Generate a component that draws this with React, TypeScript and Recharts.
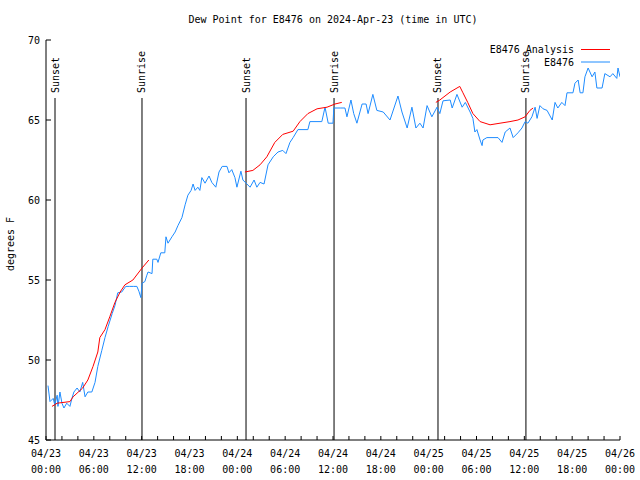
import React from 'react';
import { LineChart, Line, XAxis, YAxis, ReferenceLine, Legend } from 'recharts';

const FONT = '"DejaVu Sans Mono", "Liberation Mono", monospace';

const titleText = 'Dew Point for E8476 on 2024-Apr-23 (time in UTC)';
const yAxisTitle = 'degrees F';
const stationName = 'E8476';
const analysisName = 'E8476 Analysis';

// hours since 2024-04-23 00:00 UTC
const stationHours = [
  0.25, 0.5, 0.9, 1.1, 1.4, 1.5, 1.75, 2.0, 2.25, 2.6, 3.0, 3.25, 3.5, 3.9, 4.25, 4.6, 4.9, 5.25, 5.75, 6.15,
  6.5, 7.0, 7.4, 7.8, 8.3, 8.65, 9.0, 9.5, 10.0, 10.5, 11.0, 11.4, 11.65, 11.9, 12.05, 12.4, 12.65, 12.8, 13.3, 13.4,
  13.9, 14.05, 14.4, 14.9, 15.05, 15.3, 15.8, 16.2, 16.55, 17.05, 17.45, 17.8, 18.2, 18.45, 18.7, 19.05, 19.3, 19.55, 19.95, 20.45,
  20.8, 21.3, 21.7, 22.1, 22.7, 22.95, 23.3, 23.7, 23.95, 24.45, 24.7, 25.2, 25.6, 26.1, 26.45, 26.85, 27.35, 27.85, 28.5, 29.1,
  29.7, 30.1, 30.6, 31.0, 31.6, 32.85, 33.1, 34.6, 35.0, 35.4, 36.0, 36.1, 36.9, 37.5, 37.75, 38.25, 38.6, 39.0, 39.65, 40.15,
  40.4, 41.0, 41.5, 42.3, 43.15, 44.15, 44.65, 45.3, 45.9, 46.4, 46.9, 47.3, 47.8, 48.4, 49.05, 49.4, 49.8, 50.7, 50.95, 51.55,
  52.2, 52.6, 53.2, 53.55, 53.8, 54.05, 54.45, 54.7, 54.8, 55.3, 56.7, 57.2, 57.6, 58.2, 58.6, 59.2, 59.7, 60.1, 60.45, 60.95,
  61.35, 61.6, 61.95, 62.35, 62.85, 63.5, 63.85, 64.2, 64.7, 65.1, 65.35, 66.1, 66.35, 66.75, 67.0, 67.35, 67.6, 68.0, 68.5, 68.85,
  69.1, 69.75, 70.1, 70.75, 71.1, 71.6, 71.75, 72.0,
];
const stationValues = [
  48.4, 47.4, 47.6, 47.2, 47.8, 47.1, 48.0, 47.3, 47.0, 47.3, 47.1, 47.6, 48.0, 48.25, 48.0, 48.6, 47.7, 48.0, 48.0, 48.6,
  49.6, 50.6, 51.4, 52.1, 52.9, 53.4, 54.2, 54.25, 54.6, 54.6, 54.6, 54.6, 54.3, 53.9, 54.8, 54.9, 55.3, 55.5, 55.4, 56.3,
  56.3, 56.1, 56.7, 56.7, 57.7, 57.3, 57.7, 58.0, 58.4, 58.9, 59.7, 60.3, 60.6, 61.0, 60.6, 60.8, 60.6, 61.4, 61.05, 61.5,
  61.1, 60.8, 61.75, 62.1, 62.1, 61.7, 61.9, 61.4, 60.8, 61.8, 61.25, 61.0, 60.8, 61.25, 60.8, 61.1, 61.0, 62.2, 62.7, 63.0,
  63.1, 62.9, 63.6, 63.9, 64.4, 64.4, 64.9, 64.9, 65.8, 64.8, 64.8, 65.75, 65.75, 65.75, 65.2, 66.25, 65.4, 64.8, 66.0, 66.0,
  65.4, 66.6, 65.6, 65.5, 65.0, 66.5, 65.5, 64.5, 65.8, 64.5, 64.8, 64.5, 65.9, 65.2, 65.8, 65.4, 66.2, 66.25, 65.75, 66.6,
  65.8, 66.1, 65.5, 65.1, 64.25, 64.4, 63.75, 63.4, 63.75, 63.9, 63.9, 63.6, 64.25, 64.5, 63.9, 64.2, 64.5, 64.9, 64.8, 65.2,
  65.8, 65.1, 65.9, 65.7, 65.6, 65.0, 66.1, 65.75, 66.1, 65.9, 66.7, 66.7, 67.3, 67.5, 66.7, 66.7, 67.7, 68.25, 67.7, 68.0,
  67.0, 67.0, 67.9, 67.7, 67.9, 67.6, 68.25, 67.7,
];

// analysis is only drawn over the night periods; null values break the line
const analysisHours = [
  0.75, 1.4, 3.0, 3.4, 4.6, 5.25, 5.9, 6.5, 6.75, 7.4, 8.0, 8.65, 9.3, 9.9, 10.9, 12.05, 12.9,
  18.0,
  24.95, 25.95, 26.85, 27.7, 28.7, 29.7, 31.0, 31.85, 32.85, 34.0, 35.25, 36.25, 37.1,
  43.0,
  48.9, 49.4, 50.7, 51.9, 52.3, 52.9, 53.55, 54.45, 55.7, 56.95, 58.2, 59.2, 60.1, 60.7, 61.1,
];
const analysisValues: (number | null)[] = [
  47.1, 47.3, 47.4, 47.7, 48.25, 48.75, 49.6, 50.5, 51.4, 51.9, 52.7, 53.6, 54.25, 54.7, 55.0, 55.75, 56.25,
  null,
  61.75, 61.85, 62.2, 62.7, 63.6, 64.1, 64.3, 64.9, 65.4, 65.7, 65.8, 66.0, 66.1,
  null,
  66.1, 66.25, 66.75, 67.1, 66.7, 66.1, 65.4, 64.9, 64.7, 64.8, 64.9, 65.0, 65.2, 65.6, 65.75,
];

const sunEventHours = [1.13, 12.04, 25.09, 36.13, 49.17, 60.2];
const sunEventLabels = ['Sunset', 'Sunrise', 'Sunset', 'Sunrise', 'Sunset', 'Sunrise'];

const xTickHours = Array.from({ length: 37 }, (_, i) => i * 2);
const xLabelDates = ['04/23', '04/23', '04/23', '04/23', '04/24', '04/24', '04/24', '04/24', '04/25', '04/25', '04/25', '04/25', '04/26'];
const xLabelTimes = ['00:00', '06:00', '12:00', '18:00', '00:00', '06:00', '12:00', '18:00', '00:00', '06:00', '12:00', '18:00', '00:00'];
const yTicks = [45, 50, 55, 60, 65, 70];

const stationData = stationHours.map((h, i) => ({ h, v: stationValues[i] }));
const analysisData = analysisHours.map((h, i) => ({ h, v: analysisValues[i] }));

const BLUE = '#1e8cff';
const RED = '#ff0000';

const BottomTick = (props: any) => {
  const { x, y, payload } = props;
  const h = payload.value;
  const major = h % 6 === 0;
  const idx = h / 6;
  return (
    <g>
      <line x1={x} x2={x} y1={y} y2={y - 4} stroke="#000" />
      {major && (
        <text x={x} y={y + 17} textAnchor="middle" fontFamily={FONT} fontSize={10} fill="#000">
          {xLabelDates[idx]}
        </text>
      )}
      {major && (
        <text x={x} y={y + 33} textAnchor="middle" fontFamily={FONT} fontSize={10} fill="#000">
          {xLabelTimes[idx]}
        </text>
      )}
    </g>
  );
};

const TopTick = (props: any) => {
  const { x, y } = props;
  return <line x1={x} x2={x} y1={y} y2={y + 4} stroke="#000" />;
};

const LeftTick = (props: any) => {
  const { x, y, payload } = props;
  return (
    <g>
      <line x1={x} x2={x + 5} y1={y} y2={y} stroke="#000" />
      <text x={x - 6} y={y + 4} textAnchor="end" fontFamily={FONT} fontSize={10} fill="#000">
        {payload.value}
      </text>
    </g>
  );
};

const RightTick = (props: any) => {
  const { x, y } = props;
  return <line x1={x} x2={x - 5} y1={y} y2={y} stroke="#000" />;
};

const sunLabel = (text: string) => (props: any) => {
  const vb = props.viewBox || {};
  const x = vb.x;
  const y = vb.y - 5;
  return (
    <text
      x={x}
      y={y}
      transform={`rotate(-90 ${x} ${y})`}
      textAnchor="start"
      dominantBaseline="central"
      fontFamily={FONT}
      fontSize={10}
      fill="#000"
    >
      {text}
    </text>
  );
};

const LegendBox = () => (
  <svg width={140} height={34} style={{ display: 'block' }}>
    <text x={94} y={15} textAnchor="end" fontFamily={FONT} fontSize={10} fill="#000">
      {analysisName}
    </text>
    <line x1={101} x2={130} y1={11.5} y2={11.5} stroke={RED} />
    <text x={94} y={28} textAnchor="end" fontFamily={FONT} fontSize={10} fill="#000">
      {stationName}
    </text>
    <line x1={101} x2={130} y1={24} y2={24} stroke={BLUE} />
  </svg>
);

export default function App() {
  return (
    <div style={{ position: 'absolute', left: 0, top: 0, width: 640, height: 480, background: '#fff' }}>
      <LineChart
        width={640}
        height={480}
        margin={{ top: 40, right: 20, bottom: 0, left: 6 }}
        style={{ position: 'absolute', left: 0, top: 0 }}
      >
        <XAxis
          dataKey="h"
          type="number"
          domain={[0, 72]}
          ticks={xTickHours}
          interval={0}
          tick={<BottomTick />}
          tickLine={false}
          tickSize={0}
          tickMargin={0}
          height={40}
          axisLine={{ stroke: '#000' }}
          allowDataOverflow
        />
        <XAxis
          xAxisId="top"
          orientation="top"
          dataKey="h"
          type="number"
          domain={[0, 72]}
          ticks={xTickHours}
          interval={0}
          tick={<TopTick />}
          tickLine={false}
          tickSize={0}
          tickMargin={0}
          height={0}
          axisLine={{ stroke: '#000' }}
          allowDataOverflow
        />
        <YAxis
          type="number"
          domain={[45, 70]}
          ticks={yTicks}
          interval={0}
          tick={<LeftTick />}
          tickLine={false}
          tickSize={0}
          tickMargin={0}
          width={40}
          axisLine={{ stroke: '#000' }}
          allowDataOverflow
        />
        <YAxis
          yAxisId="right"
          orientation="right"
          type="number"
          domain={[45, 70]}
          ticks={yTicks}
          interval={0}
          tick={<RightTick />}
          tickLine={false}
          tickSize={0}
          tickMargin={0}
          width={0}
          axisLine={{ stroke: '#000' }}
          allowDataOverflow
        />
        {sunEventHours.map((h, i) => (
          <ReferenceLine
            key={`sun-${i}`}
            segment={[
              { x: h, y: 45 },
              { x: h, y: 66.375 },
            ]}
            stroke="#000"
            strokeWidth={1}
            label={sunLabel(sunEventLabels[i])}
            ifOverflow="visible"
          />
        ))}
        <Line
          data={stationData}
          dataKey="v"
          stroke={BLUE}
          strokeWidth={1}
          dot={false}
          isAnimationActive={false}
          type="linear"
        />
        <Line
          data={analysisData}
          dataKey="v"
          stroke={RED}
          strokeWidth={1}
          dot={false}
          connectNulls={false}
          isAnimationActive={false}
          type="linear"
        />
        <Legend
          layout="vertical"
          align="center"
          verticalAlign="middle"
          wrapperStyle={{ left: 480, top: 38, width: 140, height: 34 }}
          content={() => <LegendBox />}
        />
      </LineChart>
      <svg width={640} height={480} style={{ position: 'absolute', left: 0, top: 0, pointerEvents: 'none' }}>
        <text x={333} y={23} textAnchor="middle" fontFamily={FONT} fontSize={10} fill="#000">
          {titleText}
        </text>
        <text
          x={10}
          y={244}
          transform="rotate(-90 10 244)"
          textAnchor="middle"
          dominantBaseline="central"
          fontFamily={FONT}
          fontSize={10}
          fill="#000"
        >
          {yAxisTitle}
        </text>
      </svg>
    </div>
  );
}
